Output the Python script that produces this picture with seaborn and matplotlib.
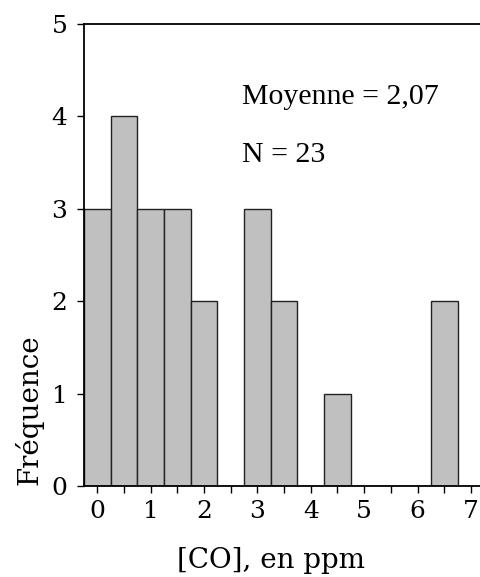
import matplotlib
matplotlib.use("Agg")
import matplotlib.pyplot as plt
import seaborn as sns
import numpy as np
from matplotlib.ticker import MultipleLocator

# Data: histogram of CO concentration (bin centres and counts)
bin_centers = [0.0, 0.5, 1.0, 1.5, 2.0, 2.5, 3.0, 3.5, 4.0, 4.5, 5.0, 5.5, 6.0, 6.5]
counts = [3, 4, 3, 3, 2, 0, 3, 2, 0, 1, 0, 0, 0, 2]
x_ticks = [0, 1, 2, 3, 4, 5, 6, 7]
y_ticks = [0, 1, 2, 3, 4, 5]
x_label = "[CO], en ppm"
y_label = "Fréquence"
annot_mean = "Moyenne = 2,07"
annot_n = "N = 23"

sns.set_style("white")
plt.rcParams['font.family'] = ['DejaVu Serif']

fig = plt.figure(figsize=(4.81, 5.77), dpi=100)
ax = fig.add_axes([84/481, 91/577, 1 - 84/481, 462/577])

sns.histplot(x=bin_centers, weights=counts, binwidth=0.5, binrange=(-0.25, 6.75),
             color="#c0c0c0", edgecolor="#222222", linewidth=1.0, alpha=1.0, ax=ax)

ax.set_xlim(-0.25, 7.19)
ax.set_ylim(0, 5)
ax.set_xticks(x_ticks)
ax.set_yticks(y_ticks)
ax.xaxis.set_minor_locator(MultipleLocator(0.5))
ax.tick_params(axis='both', which='both', direction='out', color='black')
ax.tick_params(axis='x', which='major', length=5, width=1.0, pad=5, labelsize=18)
ax.tick_params(axis='x', which='minor', length=5, width=1.0)
ax.tick_params(axis='y', which='major', length=5, width=1.0, pad=7, labelsize=18)
ax.tick_params(bottom=True, left=True, which='both', labelcolor='black')

for s in ['left', 'top', 'bottom']:
    ax.spines[s].set_visible(True)
    ax.spines[s].set_color('black')
    ax.spines[s].set_linewidth(1.3)
ax.spines['right'].set_visible(False)

ax.set_xlabel(x_label, fontsize=20, color='black')
ax.set_ylabel(y_label, fontsize=20, color='black')
ax.xaxis.set_label_coords((271 - 84) / 397, (486 - 547) / 462)
ax.yaxis.set_label_coords((14 - 84) / 397, (486 - 410) / 462)
ax.yaxis.label.set_va('top')

ax.text(2.72, 4.21, annot_mean, fontsize=21.5, family='Liberation Serif', va='center', ha='left', color='black')
ax.text(2.72, 3.58, annot_n, fontsize=21.5, family='Liberation Serif', va='center', ha='left', color='black')

fig.savefig("out.png", dpi=100)
